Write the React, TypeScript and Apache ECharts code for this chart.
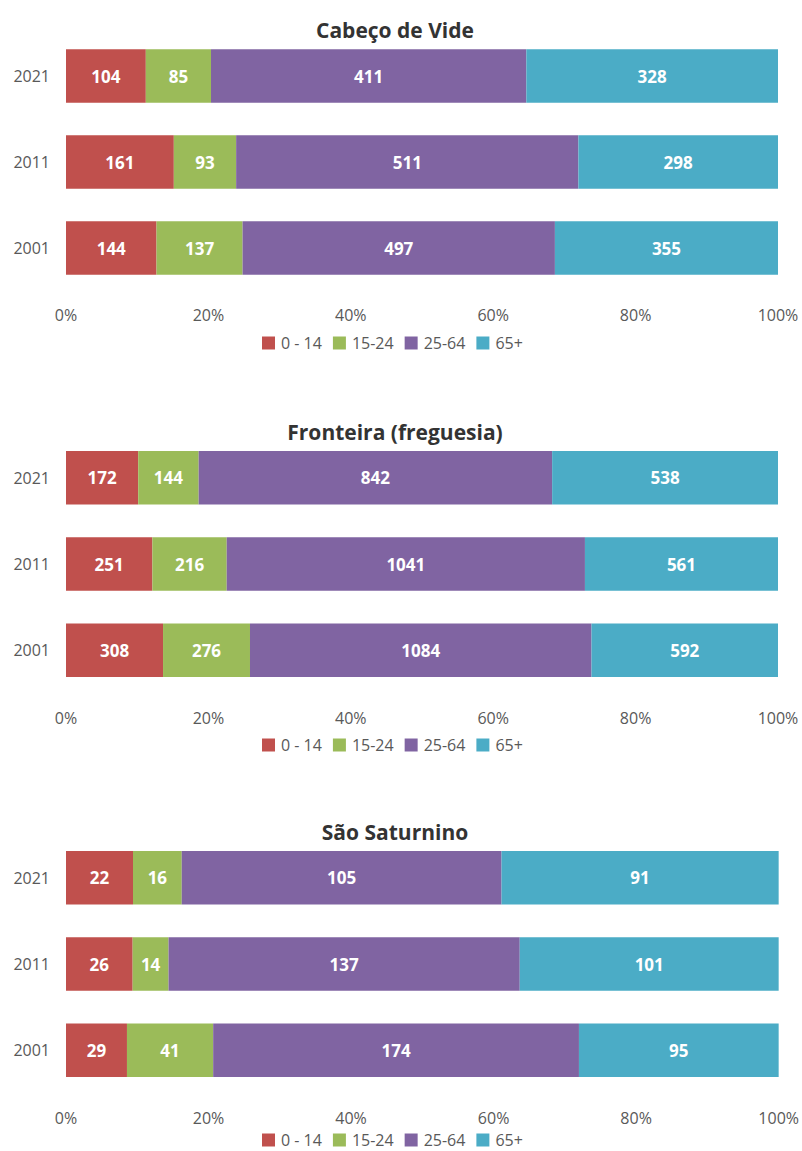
import React, { useEffect, useRef } from "react";
import * as echarts from "echarts";

const years = ["2021", "2011", "2001"];
const groups = ["0 - 14", "15-24", "25-64", "65+"];
const colors = ["#C0504D", "#9BBB59", "#8064A2", "#4BACC6"];
const ticks = ["0%", "20%", "40%", "60%", "80%", "100%"];

const titles = ["Cabeço de Vide", "Fronteira (freguesia)", "São Saturnino"];

// rows: years (2021, 2011, 2001); columns: age groups
const cabecoDeVide = [
  [104, 85, 411, 328],
  [161, 93, 511, 298],
  [144, 137, 497, 355],
];
const fronteira = [
  [172, 144, 842, 538],
  [251, 216, 1041, 561],
  [308, 276, 1084, 592],
];
const saoSaturnino = [
  [22, 16, 105, 91],
  [26, 14, 137, 101],
  [29, 41, 174, 95],
];

const tables = [cabecoDeVide, fronteira, saoSaturnino];

const FONT = "'Open Sans', sans-serif";

export default function App() {
  const ref = useRef<HTMLDivElement>(null);
  useEffect(() => {
    if (!ref.current) return;
    const chart = echarts.init(ref.current, null, { renderer: "svg" });
    const layout = [
      { top: 33, height: 258, right: 24, title: 28, legend: 341 },
      { top: 434.5, height: 259, right: 24, title: 430, legend: 743 },
      { top: 834.5, height: 259, right: 22, title: 830, legend: 1138 },
    ];
    const grids: any[] = [];
    const xAxes: any[] = [];
    const yAxes: any[] = [];
    const series: any[] = [];
    const titleOpts: any[] = [];
    const legends: any[] = [];
    tables.forEach((tbl, gi) => {
      const L = layout[gi];
      grids.push({ left: 66, right: L.right, top: L.top, height: L.height });
      xAxes.push({
        type: "value",
        gridIndex: gi,
        min: 0,
        max: 100,
        interval: 20,
        axisLine: { show: false },
        axisTick: { show: false },
        splitLine: { show: false },
        axisLabel: {
          formatter: (v: number) => ticks[Math.round(v / 20)],
          color: "#595959",
          fontSize: 16,
          fontFamily: FONT,
          margin: 16,
        },
      });
      yAxes.push({
        type: "category",
        gridIndex: gi,
        data: years,
        inverse: true,
        axisLine: { show: false },
        axisTick: { show: false },
        axisLabel: {
          color: "#595959",
          fontSize: 16,
          fontFamily: FONT,
          margin: 16,
        },
      });
      const totals = tbl.map((row) => row.reduce((a, b) => a + b, 0));
      groups.forEach((g, k) => {
        series.push({
          type: "bar",
          name: g,
          xAxisIndex: gi,
          yAxisIndex: gi,
          stack: "s" + gi,
          barCategoryGap: "38%",
          itemStyle: { color: colors[k] },
          label: {
            show: true,
            position: "inside",
            color: "#ffffff",
            fontWeight: "bold",
            fontSize: 17,
            fontFamily: FONT,
            formatter: (p: any) => String(p.data.raw),
          },
          data: tbl.map((row, r) => ({
            value: (row[k] / totals[r]) * 100,
            raw: row[k],
          })),
        });
      });
      titleOpts.push({
        text: titles[gi],
        left: 390,
        top: L.title - 14,
        textAlign: "center",
        textStyle: {
          fontSize: 21,
          fontWeight: "bold",
          color: "#333333",
          fontFamily: FONT,
        },
      });
      legends.push({
        data: groups,
        left: 257,
        top: L.legend - 11,
        orient: "horizontal",
        itemWidth: 13,
        itemHeight: 13,
        itemGap: 11,
        icon: "rect",
        textStyle: {
          color: "#595959",
          fontSize: 16,
          fontFamily: FONT,
          padding: [0, 0, 0, 1],
        },
        selectedMode: false,
      });
    });
    chart.setOption({
      animation: false,
      backgroundColor: "#ffffff",
      title: titleOpts,
      legend: legends,
      grid: grids,
      xAxis: xAxes,
      yAxis: yAxes,
      series,
    });
    return () => chart.dispose();
  }, []);
  return (
    <div
      ref={ref}
      style={{ position: "fixed", left: 0, top: 0, width: 802, height: 1151 }}
    />
  );
}
